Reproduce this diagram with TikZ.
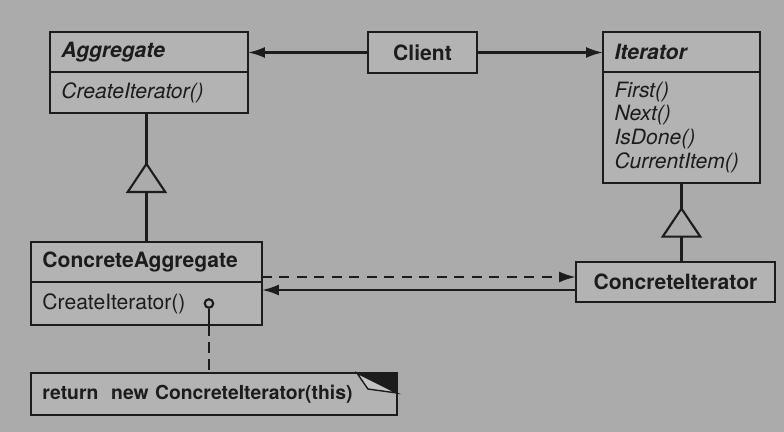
\documentclass[tikz,border=0pt]{standalone}
\usepackage{fontspec}
\setmainfont{TeX Gyre Heros}
\usetikzlibrary{positioning,arrows.meta,calc,decorations.markings}
\definecolor{scan}{HTML}{ABABAB}
\definecolor{ink}{HTML}{1C1C1C}

\begin{document}
\begin{tikzpicture}[x=0.02cm,y=-0.02cm,
  box/.style={draw=ink,line width=1.2pt,fill=scan!90!white,anchor=north west,align=left,
    inner xsep=0.23cm,inner ysep=0pt,outer sep=0pt,text=ink,font=\fontsize{12}{13}\selectfont},
  hdr/.style={box,minimum height=0.8cm,font=\fontsize{12}{13}\selectfont\bfseries},
  abs/.style={hdr,font=\fontsize{12}{13}\selectfont\bfseries\itshape},
  ops/.style={box,below=0pt of #1.south west,anchor=north west},
  line/.style={draw=ink,line width=1.3pt},
  dep/.style={line,-{Latex[length=3.4mm,width=2.2mm]}},
  inh/.style={line,postaction={decorate},decoration={markings,
    mark=at position #1 with {\arrow{Triangle[length=0.62cm,width=0.82cm,fill=scan,line width=1.2pt]}}}}]
\fill[scan] (0,0) rectangle (784,432);
\useasboundingbox (0,0) rectangle (784,432);
% classes
\node[abs,text width=3.5cm] (agg) at (50,32) {Aggregate};
\node[ops=agg,text width=3.5cm,minimum height=0.82cm,font=\fontsize{12}{13}\selectfont\itshape] (aggops) {CreateIterator()};
\node[hdr,align=center,minimum width=2.18cm,minimum height=0.82cm] (client) at (368,32) {Client};
\node[abs,text width=2.68cm] (iter) at (603,32) {Iterator};
\node[ops=iter,text width=2.68cm,minimum height=2.22cm,font=\fontsize{12}{13.6}\selectfont\itshape] (iterops) {First()\\Next()\\IsDone()\\CurrentItem()};
\node[hdr,text width=4.16cm] (cagg) at (31,242) {ConcreteAggregate};
\node[ops=cagg,text width=4.16cm,minimum height=0.86cm] (caggops) {CreateIterator()};
\node[hdr,align=center,minimum width=3.98cm] (cit) at (576,262) {ConcreteIterator};
\node[box,text width=6.86cm,minimum height=0.84cm,font=\fontsize{11}{12}\selectfont\bfseries] (note) at (31,373) {return\ \ new ConcreteIterator(this)};
\fill[ink] ($(note.north east)+(-40,0)$) -- (note.north east) -- ++(0,20) -- cycle;
\draw[line,line width=0.8pt,fill=scan!70!white] ($(note.north east)+(-40,0)$) -- ++(11,16) -- ($(note.north east)+(0,20)$) -- cycle;
% associations
\draw[dep] (client.west) -- (client.west -| agg.east);
\draw[dep] (client.east) -- (client.east -| iter.west);
\coordinate (hi) at ($(cit.west)+(0,-5)$);
\coordinate (lo) at ($(cit.west)+(0,8)$);
\draw[dep,dash pattern=on 0.2cm off 0.15cm] (hi -| cagg.east) -- (hi);
\draw[dep] (lo) -- (lo -| cagg.east);
% inheritance
\draw[inh=0.62] (cagg.north) -- (cagg.north |- aggops.south);
\draw[inh=0.70] (iterops.south |- cit.north) -- (iterops.south);
% note link
\node[circle,draw=ink,line width=1.2pt,fill=scan!90!white,inner sep=0pt,minimum size=0.17cm] (link) at ($(caggops.east)+(-53,0)$) {};
\draw[line] (link.south) -- (link |- caggops.south);
\draw[line,dash pattern=on 0.22cm off 0.12cm] (link |- caggops.south) -- (link |- note.north);
\end{tikzpicture}
\end{document}
